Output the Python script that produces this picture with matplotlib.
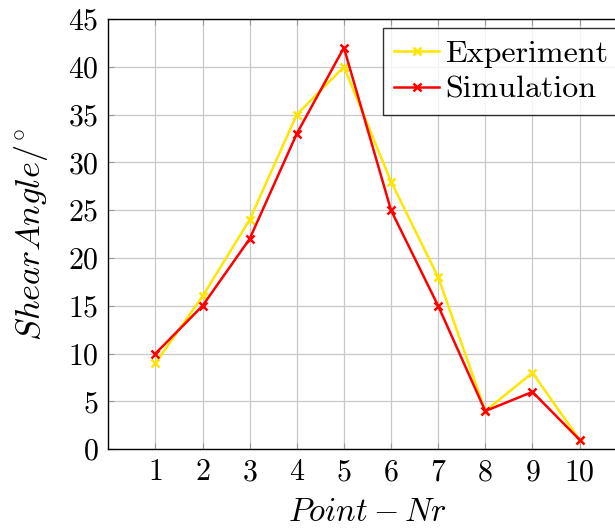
import matplotlib
matplotlib.use('Agg')
import matplotlib.pyplot as plt

plt.rcParams.update({
    'font.family': 'serif', 'font.serif': ['cmr10'],
    'mathtext.fontset': 'cm', 'axes.formatter.use_mathtext': True,
    'font.size': 22,
})

points = [1, 2, 3, 4, 5, 6, 7, 8, 9, 10]
experiment = [9, 16, 24, 35, 40, 28, 18, 4, 8, 1]
simulation = [10, 15, 22, 33, 42, 25, 15, 4, 6, 1]
yticks = [0, 5, 10, 15, 20, 25, 30, 35, 40, 45]

fig = plt.figure(figsize=(6.15, 5.29), dpi=100)
# right side of the axes runs past the figure edge, as in the reference crop
ax = fig.add_axes([0.176, 0.1507, 0.843, 0.8134])

ax.plot(points, experiment, color='#ffe600', marker='x', markersize=6,
        markeredgewidth=1.8, linewidth=1.8, label='Experiment', zorder=3)
ax.plot(points, simulation, color='#ff0000', marker='x', markersize=6,
        markeredgewidth=1.8, linewidth=1.8, label='Simulation', zorder=4)

ax.set_xlim(0, 11)
ax.set_ylim(0, 45)
ax.set_xticks(points)
ax.set_yticks(yticks)
ax.grid(True, color='#c8c8c8', linewidth=0.9)
ax.tick_params(direction='in', top=True, right=True, length=4,
               color='#999999', labelsize=21.5, pad=7)
for s in ax.spines.values():
    s.set_linewidth(1.0)

ax.set_xlabel(r'$Point-Nr$', fontsize=23.5, labelpad=8)
ax.set_ylabel(r'$ShearAngle/^{\circ}$', fontsize=24.7, labelpad=13)

leg = ax.legend(loc='upper left', bbox_to_anchor=(0.53, 0.978), fontsize=23,
                frameon=True, fancybox=False, edgecolor='black',
                handlelength=1.4, borderpad=0.35, labelspacing=0.23,
                handletextpad=0.2, borderaxespad=0)
leg.get_frame().set_linewidth(1.0)

fig.savefig('out.png', dpi=100)
